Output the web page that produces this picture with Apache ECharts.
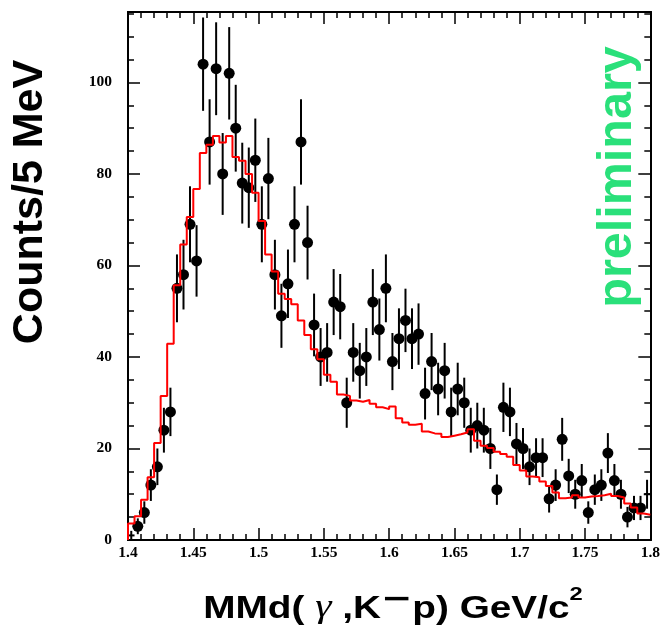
<!DOCTYPE html>
<html><head><meta charset="utf-8">
<script src="https://cdn.jsdelivr.net/npm/echarts@6/dist/echarts.min.js"></script>
<style>html,body{margin:0;padding:0;background:#fff}#c{width:663px;height:625px}</style>
</head><body><div id="c"></div>
<script>
// bin centres (GeV/c^2), 5 MeV bins
const xCenters = [
1.4025,1.4075,1.4125,1.4175,1.4225,1.4275,1.4325,1.4375,1.4425,1.4475,
1.4525,1.4575,1.4625,1.4675,1.4725,1.4775,1.4825,1.4875,1.4925,1.4975,
1.5025,1.5075,1.5125,1.5175,1.5225,1.5275,1.5325,1.5375,1.5425,1.5475,
1.5525,1.5575,1.5625,1.5675,1.5725,1.5775,1.5825,1.5875,1.5925,1.5975,
1.6025,1.6075,1.6125,1.6175,1.6225,1.6275,1.6325,1.6375,1.6425,1.6475,
1.6525,1.6575,1.6625,1.6675,1.6725,1.6775,1.6825,1.6875,1.6925,1.6975,
1.7025,1.7075,1.7125,1.7175,1.7225,1.7275,1.7325,1.7375,1.7425,1.7475,
1.7525,1.7575,1.7625,1.7675,1.7725,1.7775,1.7825,1.7875,1.7925,1.7975];
// measured counts per bin (data points)
const counts = [
1,3,6,12,16,24,28,55,58,69,
61,104,87,103,80,102,90,78,77,83,
69,79,58,49,56,69,87,65,47,40,
41,52,51,30,41,37,40,52,46,55,
39,44,48,44,45,32,39,33,37,28,
33,30,24,25,24,20,11,29,28,21,
20,16,18,18,9,12,22,14,10,13,
6,11,12,19,13,10,5,7,7,10];
// simulation histogram (red)
const mcCounts = [
3.6,5.2,8.8,13.7,21.2,31.5,42.9,55.7,64.6,70.6,
76.7,84.6,86.4,88.3,86.9,88.3,83.7,82.9,80.0,75.9,
69.7,62.4,58.7,53.8,52.7,51.5,48.0,44.8,41.7,39.5,
36.1,34.6,31.8,31.5,30.5,30.2,30.6,29.8,29.0,28.6,
29.2,26.6,25.7,25.2,25.4,23.7,23.3,23.2,22.5,22.8,
23.1,23.5,24.2,21.7,20.6,20.1,19.3,18.8,18.2,16.4,
15.2,13.9,13.7,12.8,11.8,10.4,9.1,9.3,9.8,9.3,
9.5,9.6,9.8,10.1,9.6,9.3,8.0,7.1,5.8,5.5];
const binWidth = 0.005;
const xMin = 1.4, xMax = 1.8, yMin = 0, yMax = 115.4;

const chart = echarts.init(document.getElementById('c'), null, {renderer:'canvas'});

const errData = xCenters.map((x,i)=>{const e=Math.sqrt(counts[i]);return [x,counts[i],Math.max(0,counts[i]-e),counts[i]+e];});
const ptData = xCenters.map((x,i)=>{
  const hidden = (x - xMin) < 0.004 || (xMax - x) < 0.004; // marker would cross the frame
  return {value:[x,counts[i]], symbolSize: hidden?0:11};
});
const histData = [[xMin,0]];
xCenters.forEach((x,i)=>histData.push([x-binWidth/2, mcCounts[i]]));
histData.push([xMax, mcCounts[mcCounts.length-1]]);

const labelFont = {fontFamily:'Liberation Serif', fontWeight:'bold', fontSize:15.5, color:'#000'};
function xAx(pos, interval, len, labels){
  return {type:'value', min:xMin, max:xMax, interval:interval, position:pos,
    axisLine:{show:true, onZero:false, lineStyle:{color:'#000', width:2}},
    axisTick:{show:true, inside:true, length:len, lineStyle:{color:'#000', width:1.5}},
    axisLabel:Object.assign({show:labels, margin:5}, labelFont),
    splitLine:{show:false}};
}
function yAx(pos, interval, len, labels){
  return {type:'value', min:yMin, max:yMax, interval:interval, position:pos,
    axisLine:{show:true, onZero:false, lineStyle:{color:'#000', width:2}},
    axisTick:{show:true, inside:true, length:len, lineStyle:{color:'#000', width:1.5}},
    axisLabel:Object.assign({show:labels, margin:16, showMaxLabel:false}, labelFont),
    splitLine:{show:false}};
}

chart.setOption({
  animation:false,
  backgroundColor:'#fff',
  grid:{left:128, right:6, top:12, bottom:85, containLabel:false},
  xAxis:[xAx('bottom',0.05,12,true), xAx('bottom',0.01,6,false), xAx('top',0.05,12,false), xAx('top',0.01,6,false)],
  yAxis:[yAx('left',20,12,true), yAx('left',5,6,false), yAx('right',20,12,false), yAx('right',5,6,false)],
  series:[
    {type:'custom', xAxisIndex:0, yAxisIndex:0, clip:true, z:2, data:errData,
     renderItem:function(params, api){
       const x=api.value(0), v=api.value(1), lo=api.value(2), hi=api.value(3);
       const pLo=api.coord([x,lo]), pHi=api.coord([x,hi]);
       const pL=api.coord([x-binWidth/2,v]), pR=api.coord([x+binWidth/2,v]);
       const st={stroke:'#000', lineWidth:2};
       return {type:'group', children:[
         {type:'line', shape:{x1:pLo[0],y1:pLo[1],x2:pHi[0],y2:pHi[1]}, style:st},
         {type:'line', shape:{x1:pL[0],y1:pL[1],x2:pR[0],y2:pR[1]}, style:st}
       ]};
     }},
    {type:'scatter', xAxisIndex:0, yAxisIndex:0, z:3, symbol:'circle', data:ptData,
     itemStyle:{color:'#000', opacity:1}},
    {type:'line', xAxisIndex:0, yAxisIndex:0, z:4, step:'end', showSymbol:false, symbol:'none',
     data:histData, lineStyle:{color:'#ff0000', width:2}}
  ],
  graphic:[
    {type:'text', x:30, y:202, rotation:Math.PI/2,
     style:{text:'Counts/5 MeV', fontFamily:'Liberation Sans', fontWeight:'bold', fontSize:43, fill:'#000', align:'center', verticalAlign:'middle'}},
    {type:'text', x:618, y:177, rotation:Math.PI/2,
     style:{text:'preliminary', fontFamily:'Liberation Sans', fontWeight:'bold', fontSize:48.5, fill:'#2ae07a', align:'center', verticalAlign:'middle'}},
    {type:'text', x:393, y:605, scaleX:1.25,
     style:{text:'{a|MMd( }{g|γ}{a| ,K}{m|−}{a|p) GeV/c}{s|2}', align:'center', verticalAlign:'middle',
       rich:{
         a:{fontFamily:'Liberation Sans', fontWeight:'bold', fontSize:31, lineHeight:40, fill:'#000', color:'#000', verticalAlign:'bottom'},
         g:{fontFamily:'Liberation Serif', fontStyle:'italic', fontSize:33, lineHeight:40, fill:'#000', color:'#000', verticalAlign:'bottom'},
         m:{fontFamily:'DejaVu Sans', fontWeight:'bold', fontSize:30, lineHeight:28, fill:'#000', color:'#000', verticalAlign:'top'},
         s:{fontFamily:'Liberation Sans', fontWeight:'bold', fontSize:19, lineHeight:21, fill:'#000', color:'#000', verticalAlign:'top'}
       }}}
  ]
});
</script>
</body></html>
